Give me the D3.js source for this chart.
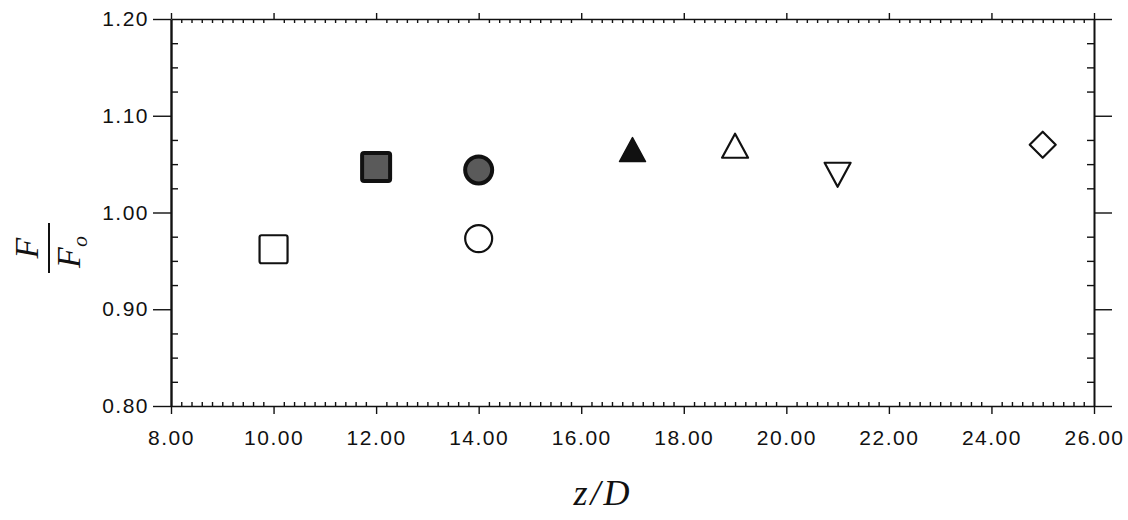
<!DOCTYPE html>
<html>
<head>
  <script src="https://d3js.org/d3.v7.min.js"></script>
  <style>
    body { margin: 0; background: #fff; }
    .tick text { font-family: "Liberation Sans", Arial, sans-serif; font-size: 21px; letter-spacing: 1.5px; fill: #111; }
  </style>
</head>
<body>
<div id="chart"></div>
<script>
// data
const zOverD = [10, 12, 14, 14, 17, 19, 21, 25];
const forceRatio = [0.962, 1.047, 1.044, 0.973, 1.065, 1.069, 1.039, 1.070];
const markerKind = ["squareOpen", "squareFilled", "circleFilled", "circleOpen",
                    "triFilled", "triOpen", "triDownOpen", "diamondOpen"];
const xTicks = [8, 10, 12, 14, 16, 18, 20, 22, 24, 26];
const yTicks = [0.80, 0.90, 1.00, 1.10, 1.20];

const points = zOverD.map((z, i) => ({ z: z, f: forceRatio[i], kind: markerKind[i] }));

const W = 1128, H = 520;
const plotL = 171, plotR = 1094, plotT = 19, plotB = 406;

const svg = d3.select("#chart").append("svg")
  .attr("width", W).attr("height", H);

const x = d3.scaleLinear().domain([8, 26]).range([plotL, plotR]);
const y = d3.scaleLinear().domain([0.80, 1.20]).range([plotB, plotT]);

const xMinor = d3.range(8, 26.001, 0.2).filter(v => Math.abs(v / 2 - Math.round(v / 2)) > 0.01);
const yMinor = d3.range(0.80, 1.2001, 0.025).filter(v => Math.abs(v * 10 - Math.round(v * 10)) > 0.01);

// bottom axis
svg.append("g")
  .attr("transform", `translate(0,${plotB})`)
  .call(d3.axisBottom(x).tickValues(xTicks).tickSizeInner(8).tickSizeOuter(0).tickPadding(16)
    .tickFormat(d3.format(".2f")));
svg.append("g")
  .attr("transform", `translate(0,${plotB})`)
  .call(d3.axisTop(x).tickValues(xMinor).tickSize(4).tickFormat(""))
  .call(g => g.select(".domain").remove());

// top axis
svg.append("g")
  .attr("transform", `translate(0,${plotT})`)
  .call(d3.axisTop(x).tickValues(xTicks).tickSizeInner(6).tickSizeOuter(0).tickFormat(""));
svg.append("g")
  .attr("transform", `translate(0,${plotT})`)
  .call(d3.axisBottom(x).tickValues(xMinor).tickSize(4).tickFormat(""))
  .call(g => g.select(".domain").remove());

// left axis
svg.append("g")
  .attr("class", "yleft")
  .attr("transform", `translate(${plotL},0)`)
  .call(d3.axisLeft(y).tickValues(yTicks).tickSizeInner(18).tickSizeOuter(0).tickPadding(4)
    .tickFormat(d3.format(".2f")));
svg.append("g")
  .attr("transform", `translate(${plotL},0)`)
  .call(d3.axisRight(y).tickValues(yMinor).tickSize(7).tickFormat(""))
  .call(g => g.select(".domain").remove());

// right axis
svg.append("g")
  .attr("class", "yright")
  .attr("transform", `translate(${plotR},0)`)
  .call(d3.axisRight(y).tickValues(yTicks).tickSizeInner(18).tickSizeOuter(0).tickFormat(""));
svg.append("g")
  .attr("transform", `translate(${plotR},0)`)
  .call(d3.axisLeft(y).tickValues(yMinor).tickSize(7).tickFormat(""))
  .call(g => g.select(".domain").remove());

svg.selectAll(".domain, .tick line").attr("stroke", "#111").attr("stroke-width", 1.4);
svg.selectAll(".yleft .domain").attr("stroke-width", 2.4);
svg.selectAll(".yright .domain").attr("stroke-width", 2);
svg.selectAll(".tick text").attr("fill", "#111");

// markers
function shapePath(kind) {
  const p = d3.path();
  if (kind === "triFilled" || kind === "triOpen") {
    p.moveTo(0, -12); p.lineTo(13, 12); p.lineTo(-13, 12); p.closePath();
  } else if (kind === "triDownOpen") {
    p.moveTo(-13, -12); p.lineTo(13, -12); p.lineTo(0, 12); p.closePath();
  } else if (kind === "diamondOpen") {
    p.moveTo(0, -13); p.lineTo(13, 0); p.lineTo(0, 13); p.lineTo(-13, 0); p.closePath();
  }
  return p.toString();
}

const mark = svg.append("g").selectAll("g")
  .data(points).enter().append("g")
  .attr("transform", d => `translate(${x(d.z)},${y(d.f)})`);

mark.each(function(d) {
  const g = d3.select(this);
  const filled = d.kind.endsWith("Filled");
  let el;
  if (d.kind.startsWith("square")) {
    el = g.append("rect").attr("x", -14).attr("y", -14).attr("width", 28).attr("height", 28).attr("rx", 2);
  } else if (d.kind.startsWith("circle")) {
    el = g.append("circle").attr("r", 13.5);
  } else {
    el = g.append("path").attr("d", shapePath(d.kind)).attr("stroke-linejoin", "round");
  }
  if (filled) {
    const fillCol = d.kind === "triFilled" ? "#111" : "#5a5a5a";
    el.attr("fill", fillCol).attr("stroke", "#111").attr("stroke-width", d.kind === "triFilled" ? 1.5 : 4);
  } else {
    el.attr("fill", "none").attr("stroke", "#111").attr("stroke-width", 2.2);
  }
});

// axis titles
svg.append("text")
  .attr("x", 603).attr("y", 505)
  .attr("text-anchor", "middle")
  .attr("font-family", "'Liberation Serif', 'DejaVu Serif', serif")
  .attr("font-style", "italic")
  .attr("font-size", 36)
  .attr("letter-spacing", 3)
  .attr("fill", "#111")
  .text("z/D");

const yl = svg.append("g").attr("transform", "translate(49,248) rotate(-90)");
yl.append("line").attr("x1", -25).attr("x2", 25).attr("y1", 0).attr("y2", 0)
  .attr("stroke", "#111").attr("stroke-width", 2);
yl.append("text")
  .attr("x", 0).attr("y", -11)
  .attr("text-anchor", "middle")
  .attr("font-family", "'Liberation Serif', 'DejaVu Serif', serif")
  .attr("font-style", "italic").attr("font-size", 34).attr("fill", "#111")
  .text("F");
const den = yl.append("text")
  .attr("x", -4).attr("y", 31)
  .attr("text-anchor", "middle")
  .attr("font-family", "'Liberation Serif', 'DejaVu Serif', serif")
  .attr("font-style", "italic").attr("font-size", 34).attr("fill", "#111");
den.append("tspan").text("F");
den.append("tspan").attr("font-size", 22).attr("dy", 7).text("o");
</script>
</body>
</html>
